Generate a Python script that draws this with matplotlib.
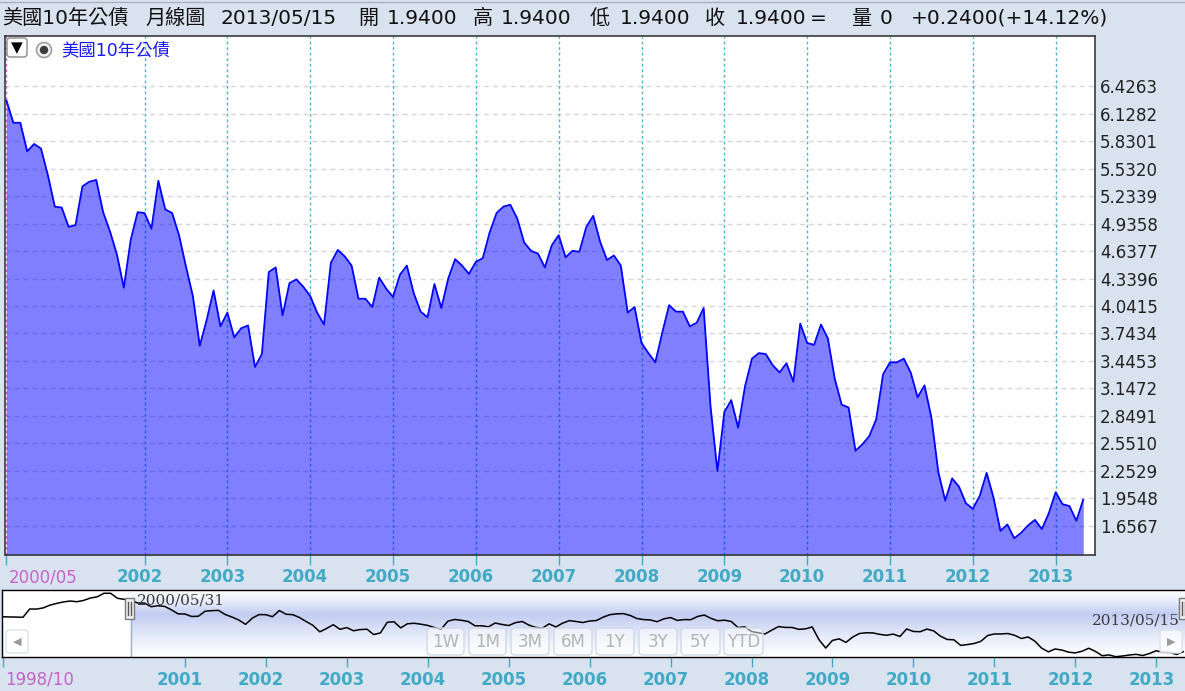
import numpy as np
import matplotlib.pyplot as plt
from matplotlib.patches import Rectangle, FancyBboxPatch, Circle
from matplotlib.transforms import offset_copy

plt.rcParams['font.family'] = ['DejaVu Sans', 'Noto Sans CJK TC']

# 美國10年公債 月線圖, monthly 2000/05 - 2013/05
yields = [
    6.27, 6.03, 6.03, 5.72, 5.80, 5.75, 5.46, 5.12,                              # 2000
    5.11, 4.90, 4.92, 5.34, 5.39, 5.41, 5.06, 4.85, 4.60, 4.24, 4.76, 5.06,      # 2001
    5.05, 4.88, 5.40, 5.09, 5.05, 4.81, 4.47, 4.15, 3.61, 3.89, 4.21, 3.82,      # 2002
    3.97, 3.70, 3.80, 3.83, 3.38, 3.52, 4.41, 4.46, 3.94, 4.29, 4.33, 4.25,      # 2003
    4.15, 3.97, 3.84, 4.51, 4.65, 4.58, 4.48, 4.12, 4.12, 4.03, 4.35, 4.23,      # 2004
    4.14, 4.38, 4.48, 4.18, 3.98, 3.92, 4.28, 4.02, 4.34, 4.55, 4.48, 4.39,      # 2005
    4.52, 4.56, 4.84, 5.05, 5.12, 5.14, 4.99, 4.73, 4.64, 4.61, 4.46, 4.70,      # 2006
    4.81, 4.57, 4.64, 4.63, 4.90, 5.02, 4.74, 4.54, 4.59, 4.48, 3.97, 4.03,      # 2007
    3.64, 3.53, 3.43, 3.75, 4.05, 3.98, 3.98, 3.82, 3.86, 4.02, 2.95, 2.25,      # 2008
    2.89, 3.02, 2.72, 3.17, 3.47, 3.53, 3.52, 3.40, 3.32, 3.42, 3.22, 3.85,      # 2009
    3.64, 3.62, 3.84, 3.69, 3.25, 2.97, 2.94, 2.47, 2.54, 2.63, 2.81, 3.30,      # 2010
    3.43, 3.43, 3.47, 3.32, 3.05, 3.18, 2.83, 2.24, 1.93, 2.17, 2.08, 1.90,      # 2011
    1.84, 1.98, 2.23, 1.96, 1.60, 1.67, 1.52, 1.58, 1.66, 1.72, 1.62, 1.79,      # 2012
    2.02, 1.89, 1.87, 1.71, 1.94,                                                # 2013
]
# navigator only: 1998/10 - 2000/04
nav_pre = [4.88, 4.86, 4.85, 4.83, 5.53, 5.52, 5.62, 5.85, 6.00, 6.12,
           6.20, 6.14, 6.25, 6.45, 6.55, 6.85, 6.85, 6.43, 6.34]

ytick_labels = ['1.6567', '1.9548', '2.2529', '2.5510', '2.8491', '3.1472',
                '3.4453', '3.7434', '4.0415', '4.3396', '4.6377', '4.9358',
                '5.2339', '5.5320', '5.8301', '6.1282', '6.4263']
main_years = list(range(2002, 2014))
nav_years = list(range(2001, 2014))
range_buttons = ['1W', '1M', '3M', '6M', '1Y', '3Y', '5Y', 'YTD']

header = [('美國10年公債', 2), ('月線圖', 145), ('2013/05/15', 221), ('開', 358),
          ('1.9400', 387), ('高', 473), ('1.9400', 501), ('低', 590),
          ('1.9400', 620), ('收', 705), ('1.9400', 736), ('=', 810),
          ('量', 851), ('0', 880), ('+0.2400(+14.12%)', 911)]

BG = '#d9e3ef'
TEAL = '#42aac6'
GRIDV = '#4cb6cf'
MAG = '#c862c8'

W, H = 1185, 691
fig = plt.figure(figsize=(W / 100, H / 100), dpi=100)
fig.patch.set_facecolor(BG)


def px_rect(x0, y0, x1, y1):
    return [x0 / W, 1 - y1 / H, (x1 - x0) / W, (y1 - y0) / H]


# ---- main chart
ax = fig.add_axes(px_rect(5, 36, 1095, 555))
ax.set_facecolor('white')
x = np.arange(len(yields))
ybot = 1.3387
ax.set_xlim(-0.217, 157.7)
ax.set_ylim(ybot, 6.972)

yt = [float(s) for s in ytick_labels]
ax.set_yticks(yt)
ax.set_yticklabels(ytick_labels)
ax.yaxis.tick_right()
ax.tick_params(axis='y', length=0, pad=3.6, labelsize=12, labelcolor='#222222')
ax.set_axisbelow(True)
ax.yaxis.grid(True, color='#d6d6d6', linestyle=(0, (3.5, 3)), lw=1)

main_idx = [(yr - 2000) * 12 - 4 for yr in main_years]
for i in main_idx:
    ax.axvline(i, color=GRIDV, lw=1, linestyle=(0, (2, 2)), zorder=1)
ax.axvline(0, color=MAG, lw=1, linestyle=(0, (2, 2)), zorder=1)

ax.fill_between(x, yields, ybot, color='#0000ff', alpha=0.5, lw=0, zorder=2)
ax.plot(x, yields, color='#0000ff', lw=1.3, zorder=3)

ax.set_xticks([0] + main_idx)
ax.tick_params(axis='x', direction='out', length=7.2, width=1, color=TEAL,
               labelbottom=False, top=False)
ax.xaxis.get_major_ticks()[0].tick1line.set_color(MAG)
for s in ax.spines.values():
    s.set_color('#3a3a3a')
    s.set_linewidth(1.2)

lab_tr = offset_copy(ax.get_xaxis_transform(), fig=fig, x=-5, y=0, units='dots')
ax.text(0, -0.0424, '2000/05', transform=offset_copy(ax.get_xaxis_transform(), fig=fig, x=2, y=0, units='dots'),
        ha='left', va='center', fontsize=12, color=MAG)
for yr, i in zip(main_years, main_idx):
    ax.text(i, -0.0424, str(yr), transform=lab_tr, ha='center', va='center',
            fontsize=12, fontweight='bold', color=TEAL)

# ---- navigator
nav = fig.add_axes(px_rect(2, 590, 1185, 657))
nav.set_facecolor('white')
nav_vals = nav_pre + yields
m = np.arange(len(nav_vals))
sel = len(nav_pre)
nx0, nx1 = -0.104, 175.26
ny0, ny1 = 1.495, 7.125

t = np.linspace(0, 1, 200)
lav = np.array([0.76, 0.80, 0.95])
wgt = np.where(t < 0.36, t / 0.36, 1 - (t - 0.36) / 0.64) ** 1.2
grad = 1 - wgt[:, None] * (1 - lav[None, :])
nav.imshow(grad[:, None, :], extent=[sel, nx1, ny0, ny1], aspect='auto',
           origin='upper', zorder=0, interpolation='bilinear')
nav.plot(m, nav_vals, color='black', lw=1.1, zorder=2)
nav.set_xlim(nx0, nx1)
nav.set_ylim(ny0, ny1)
nav.set_yticks([])
nav_idx = [(yr - 1998) * 12 - 9 for yr in nav_years]
nav.set_xticks([0] + nav_idx)
nav.tick_params(axis='x', direction='out', length=7.2, width=1, color=TEAL,
                labelbottom=False)
nav.xaxis.get_major_ticks()[0].tick1line.set_color(MAG)
for k in ['top', 'left', 'bottom']:
    nav.spines[k].set_color('black')
    nav.spines[k].set_linewidth(1)
nav.spines['right'].set_visible(False)
nav.axvline(sel, ymin=0, ymax=0.55, color='#9aa8ea', lw=1, zorder=1)

nlab_tr = offset_copy(nav.get_xaxis_transform(), fig=fig, x=-5, y=0, units='dots')
nav.text(0, -0.343, '1998/10', transform=offset_copy(nav.get_xaxis_transform(), fig=fig, x=2, y=0, units='dots'),
         ha='left', va='center', fontsize=12, color=MAG)
for yr, i in zip(nav_years, nav_idx):
    nav.text(i, -0.343, str(yr), transform=nlab_tr, ha='center', va='center',
             fontsize=12, fontweight='bold', color=TEAL)

# ---- overlay in pixel coordinates
ov = fig.add_axes([0, 0, 1, 1])
ov.set_xlim(0, W)
ov.set_ylim(H, 0)
ov.axis('off')
ov.patch.set_visible(False)
ov.set_zorder(10)

ov.plot([0, W], [1.5, 1.5], color='#a8b2bc', lw=1)
for txt, xp in header:
    ov.text(xp, 18, txt, ha='left', va='center', fontsize=14.5, color='#111111')

# legend
ov.add_patch(FancyBboxPatch((7, 38), 20, 19, boxstyle='round,pad=0,rounding_size=3',
                            fc='white', ec='#8a8a8a', lw=1))
ov.text(17, 47.5, '▼', ha='center', va='center', fontsize=11, color='black')
ov.add_patch(Circle((44, 50), 7.5, fc='#f0f0f0', ec='#a0a0a0', lw=1.2))
ov.add_patch(Circle((44, 50), 4.2, fc='#3c3c3c', ec='none'))
ov.text(61, 50, '美國10年公債', ha='left', va='center', fontsize=12.5, color='#1a1aff')

# navigator handles and labels
for hx in (129.5, 1183):
    ov.add_patch(Rectangle((hx - 4.5, 598), 9, 21, fc='#f0f0f0', ec='#7a7a7a', lw=1))
    ov.plot([hx - 1.5, hx - 1.5], [602, 615], color='#555555', lw=1)
    ov.plot([hx + 1.5, hx + 1.5], [602, 615], color='#555555', lw=1)
ov.text(137, 601, '2000/05/31', ha='left', va='center', fontsize=11,
        family='DejaVu Serif', color='#3c3c3c')
ov.text(1180, 620, '2013/05/15', ha='right', va='center', fontsize=11,
        family='DejaVu Serif', color='#3c3c3c')

# scroll buttons
for bx, arrow in ((6, '◀'), (1160, '▶')):
    ov.add_patch(FancyBboxPatch((bx, 630), 22, 23, boxstyle='round,pad=0,rounding_size=3',
                                fc=(1, 1, 1, 0.7), ec='#dde3ea', lw=1))
    ov.text(bx + 11, 641.5, arrow, ha='center', va='center', fontsize=8, color='#9a9a9a')

# range selector buttons
bxs = [427, 469, 511, 554, 596, 639, 681, 724]
bws = [37, 37, 38, 38, 38, 38, 39, 39]
for lab, bx, bw in zip(range_buttons, bxs, bws):
    ov.add_patch(FancyBboxPatch((bx, 628), bw, 27, boxstyle='round,pad=0,rounding_size=4',
                                fc=(1, 1, 1, 0.5), ec='#d2dae4', lw=1))
    ov.text(bx + bw / 2, 642, lab, ha='center', va='center', fontsize=12, color='#b4b4b4')

fig.savefig('out.png', dpi=100, facecolor=fig.get_facecolor())
